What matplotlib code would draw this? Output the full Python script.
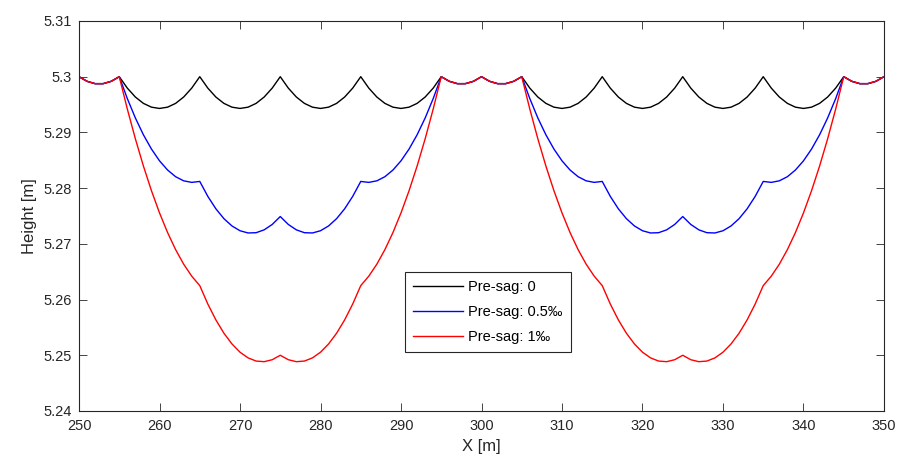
import matplotlib
matplotlib.use("Agg")
import matplotlib.pyplot as plt
import numpy as np

plt.rcParams["font.family"] = ["Liberation Sans", "DejaVu Sans"]

# Положения по X (шаг 1 м)
x_m = np.arange(250, 351, 1)

# Высота контактного провода без предварительного провеса
h_sag0 = [
    5.30000, 5.29917, 5.29875, 5.29875, 5.29917, 5.30000,
    5.29795, 5.29635, 5.29521, 5.29453, 5.29430, 5.29453, 5.29521, 5.29635, 5.29795, 5.30000,
    5.29795, 5.29635, 5.29521, 5.29453, 5.29430, 5.29453, 5.29521, 5.29635, 5.29795, 5.30000,
    5.29795, 5.29635, 5.29521, 5.29453, 5.29430, 5.29453, 5.29521, 5.29635, 5.29795, 5.30000,
    5.29795, 5.29635, 5.29521, 5.29453, 5.29430, 5.29453, 5.29521, 5.29635, 5.29795, 5.30000,
    5.29917, 5.29875, 5.29875, 5.29917, 5.30000,
    5.29917, 5.29875, 5.29875, 5.29917, 5.30000,
    5.29795, 5.29635, 5.29521, 5.29453, 5.29430, 5.29453, 5.29521, 5.29635, 5.29795, 5.30000,
    5.29795, 5.29635, 5.29521, 5.29453, 5.29430, 5.29453, 5.29521, 5.29635, 5.29795, 5.30000,
    5.29795, 5.29635, 5.29521, 5.29453, 5.29430, 5.29453, 5.29521, 5.29635, 5.29795, 5.30000,
    5.29795, 5.29635, 5.29521, 5.29453, 5.29430, 5.29453, 5.29521, 5.29635, 5.29795, 5.30000,
    5.29917, 5.29875, 5.29875, 5.29917, 5.30000,
]

# Предварительный провес 0.5 промилле
h_sag05 = [
    5.30000, 5.29917, 5.29875, 5.29875, 5.29917, 5.30000,
    5.29607, 5.29259, 5.28957, 5.28701, 5.28490, 5.28325, 5.28205, 5.28131, 5.28103, 5.28120,
    5.27852, 5.27629, 5.27452, 5.27321, 5.27235, 5.27195, 5.27200, 5.27251, 5.27348, 5.27490,
    5.27348, 5.27251, 5.27200, 5.27195, 5.27235, 5.27321, 5.27452, 5.27629, 5.27852, 5.28120,
    5.28103, 5.28131, 5.28205, 5.28325, 5.28490, 5.28701, 5.28957, 5.29259, 5.29607, 5.30000,
    5.29917, 5.29875, 5.29875, 5.29917, 5.30000,
    5.29917, 5.29875, 5.29875, 5.29917, 5.30000,
    5.29607, 5.29259, 5.28957, 5.28701, 5.28490, 5.28325, 5.28205, 5.28131, 5.28103, 5.28120,
    5.27852, 5.27629, 5.27452, 5.27321, 5.27235, 5.27195, 5.27200, 5.27251, 5.27348, 5.27490,
    5.27348, 5.27251, 5.27200, 5.27195, 5.27235, 5.27321, 5.27452, 5.27629, 5.27852, 5.28120,
    5.28103, 5.28131, 5.28205, 5.28325, 5.28490, 5.28701, 5.28957, 5.29259, 5.29607, 5.30000,
    5.29917, 5.29875, 5.29875, 5.29917, 5.30000,
]

# Предварительный провес 1 промилле
h_sag1 = [
    5.30000, 5.29917, 5.29875, 5.29875, 5.29917, 5.30000,
    5.29420, 5.28885, 5.28396, 5.27953, 5.27555, 5.27203, 5.26896, 5.26635, 5.26420, 5.26250,
    5.25920, 5.25635, 5.25396, 5.25203, 5.25055, 5.24953, 5.24896, 5.24885, 5.24920, 5.25000,
    5.24920, 5.24885, 5.24896, 5.24953, 5.25055, 5.25203, 5.25396, 5.25635, 5.25920, 5.26250,
    5.26420, 5.26635, 5.26896, 5.27203, 5.27555, 5.27953, 5.28396, 5.28885, 5.29420, 5.30000,
    5.29917, 5.29875, 5.29875, 5.29917, 5.30000,
    5.29917, 5.29875, 5.29875, 5.29917, 5.30000,
    5.29420, 5.28885, 5.28396, 5.27953, 5.27555, 5.27203, 5.26896, 5.26635, 5.26420, 5.26250,
    5.25920, 5.25635, 5.25396, 5.25203, 5.25055, 5.24953, 5.24896, 5.24885, 5.24920, 5.25000,
    5.24920, 5.24885, 5.24896, 5.24953, 5.25055, 5.25203, 5.25396, 5.25635, 5.25920, 5.26250,
    5.26420, 5.26635, 5.26896, 5.27203, 5.27555, 5.27953, 5.28396, 5.28885, 5.29420, 5.30000,
    5.29917, 5.29875, 5.29875, 5.29917, 5.30000,
]

labels = ["Pre-sag: 0", "Pre-sag: 0.5\u2030", "Pre-sag: 1\u2030"]
colors = ["k", "b", "r"]

axis_gray = (0.15, 0.15, 0.15)

fig = plt.figure(figsize=(9, 4.61), dpi=100)
ax = fig.add_axes([0.0878, 0.1085, 0.8944, 0.846])

for h, lab, c in zip([h_sag0, h_sag05, h_sag1], labels, colors):
    ax.plot(x_m, h, color=c, linewidth=1.0, label=lab)

ax.set_xlim(250, 350)
ax.set_ylim(5.24, 5.31)
ax.set_xticks(np.arange(250, 351, 10))
yt = np.round(np.arange(5.24, 5.311, 0.01), 2)
ax.set_yticks(yt)
ax.set_yticklabels([f"{v:g}" for v in yt])

ax.tick_params(direction="in", length=6, width=0.6, colors=axis_gray,
               labelsize=10.5, top=True, right=True)
ax.tick_params(axis="x", pad=6)
ax.tick_params(axis="y", pad=5)
for s in ax.spines.values():
    s.set_color(axis_gray)
    s.set_linewidth(0.8)

ax.set_xlabel("X [m]", fontsize=12, color=axis_gray, labelpad=4)
ax.set_ylabel("Height [m]", fontsize=12, color=axis_gray, labelpad=5)

leg = ax.legend(loc="upper left", bbox_to_anchor=(0.405, 0.356), fontsize=10.5,
                fancybox=False, framealpha=1, edgecolor=axis_gray,
                handlelength=3.4, labelspacing=0.75, borderpad=0.55,
                handletextpad=0.4, borderaxespad=0)
leg.get_frame().set_linewidth(0.8)

fig.savefig("out.png", dpi=100)
